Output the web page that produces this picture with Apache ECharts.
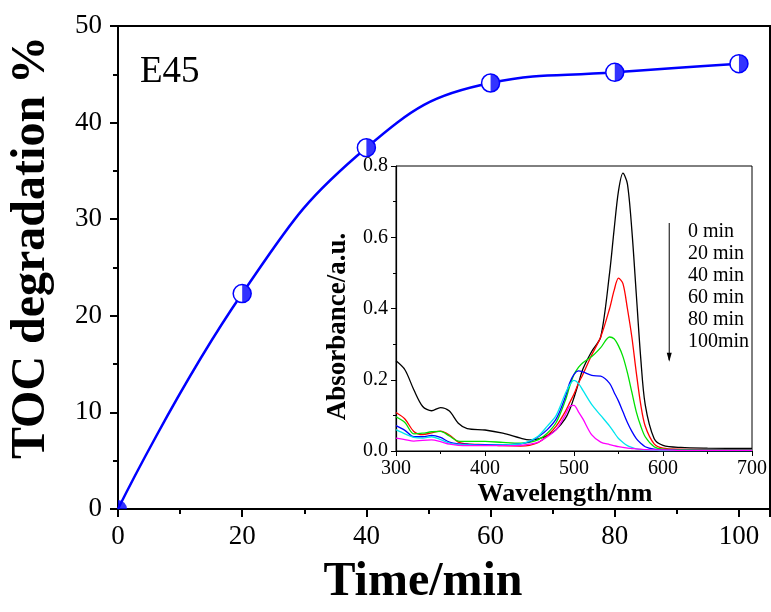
<!DOCTYPE html>
<html>
<head>
<meta charset="utf-8">
<script src="https://cdn.jsdelivr.net/npm/echarts@6/dist/echarts.min.js"></script>
<style>
html,body{margin:0;padding:0;background:#fff;}
#chart{width:771px;height:612px;}
</style>
</head>
<body>
<div id="chart"></div>
<script>
// ---- Main chart data ----
const timeMin = [0, 20, 40, 60, 80, 100];
const tocDegradation = [0, 22.3, 37.4, 44.1, 45.2, 46.1];

// ---- Inset data (absorbance spectra) ----
const wavelength = [300,310,320,330,340,350,360,370,380,400,420,440,450,460,470,480,490,495,500,505,510,520,530,540,545,550,555,560,565,570,575,580,590,600,620,650,700];
const abs0 = [0.253,0.228,0.172,0.125,0.113,0.122,0.112,0.078,0.063,0.059,0.050,0.036,0.031,0.034,0.043,0.060,0.090,0.115,0.150,0.190,0.230,0.280,0.320,0.500,0.620,0.730,0.780,0.750,0.620,0.440,0.260,0.130,0.035,0.016,0.010,0.008,0.007];
const abs20 = [0.108,0.090,0.055,0.046,0.051,0.056,0.045,0.025,0.020,0.018,0.015,0.014,0.016,0.024,0.043,0.070,0.110,0.135,0.160,0.190,0.215,0.270,0.320,0.400,0.450,0.485,0.470,0.400,0.320,0.220,0.130,0.070,0.020,0.008,0.005,0.004,0.004];
const abs40 = [0.096,0.080,0.048,0.050,0.054,0.055,0.042,0.028,0.027,0.027,0.024,0.022,0.024,0.032,0.050,0.080,0.140,0.180,0.215,0.235,0.248,0.265,0.290,0.320,0.315,0.295,0.265,0.220,0.165,0.110,0.070,0.040,0.012,0.005,0.004,0.003,0.003];
const abs60 = [0.071,0.058,0.040,0.040,0.044,0.038,0.025,0.020,0.019,0.018,0.018,0.020,0.026,0.040,0.060,0.090,0.150,0.190,0.215,0.225,0.222,0.212,0.210,0.190,0.165,0.140,0.110,0.080,0.055,0.035,0.022,0.012,0.005,0.003,0.002,0.002,0.002];
const abs80 = [0.060,0.048,0.038,0.036,0.040,0.032,0.022,0.018,0.017,0.016,0.017,0.020,0.028,0.042,0.070,0.100,0.160,0.185,0.198,0.190,0.170,0.130,0.100,0.070,0.052,0.035,0.024,0.015,0.010,0.006,0.004,0.003,0.002,0.001,0.001,0.001,0.001];
const abs100 = [0.036,0.032,0.028,0.030,0.031,0.026,0.019,0.016,0.015,0.015,0.015,0.016,0.019,0.025,0.040,0.060,0.100,0.125,0.128,0.110,0.090,0.045,0.025,0.018,0.015,0.012,0.010,0.008,0.007,0.006,0.005,0.004,0.003,0.003,0.002,0.002,0.002];
const seriesNames = ['0 min', '20 min', '40 min', '60 min', '80 min', '100min'];
const seriesValues = [abs0, abs20, abs40, abs60, abs80, abs100];
const seriesColors = ['#000000', '#ff0000', '#00e000', '#0000ff', '#00e5ee', '#ff00ff'];
// arrow annotation (wavelength, absorbance): start, end
const arrowX = [607, 607];
const arrowY = [0.64, 0.255];

const FONT = "'Liberation Serif', 'Times New Roman', serif";
const BLUE = '#0000ff';

const mainPairs = timeMin.map((t, i) => [t, tocDegradation[i]]);
const halfDisc = 'path://M10,0 A10,10 0 0 1 10,20 Z M0,10 L0.01,10 Z';
const quarterDisc = 'path://M0,0 L0,-10 A10,10 0 0 1 10,0 Z';

const baseData = mainPairs.map((p, i) => i === 0 ? { value: p, symbol: 'none' } : { value: p });
const halfData = mainPairs.map((p, i) => i === 0
  ? { value: p, symbol: quarterDisc, symbolSize: [9, 9], symbolOffset: [4.5, -4.5] }
  : { value: p });

const insetSeries = seriesNames.map((name, k) => ({
  name: name,
  type: 'line',
  xAxisIndex: 1,
  yAxisIndex: 1,
  data: wavelength.map((w, i) => [w, seriesValues[k][i]]),
  smooth: 0.3,
  showSymbol: false,
  symbol: 'none',
  z: 22,
  lineStyle: { color: seriesColors[k], width: 1.3 },
  itemStyle: { color: seriesColors[k] },
  silent: true
}));

const arrowSeries = {
  name: 'arrow',
  type: 'line',
  xAxisIndex: 1,
  yAxisIndex: 1,
  data: arrowX.map((x, i) => i === 0
    ? { value: [x, arrowY[i]], symbol: 'none' }
    : { value: [x, arrowY[i]], symbol: 'triangle', symbolSize: [5, 9], symbolRotate: 180, symbolOffset: [0, -3] }),
  showAllSymbol: true,
  z: 23,
  lineStyle: { color: '#000', width: 1 },
  itemStyle: { color: '#000', borderWidth: 0 },
  silent: true
};

const chart = echarts.init(document.getElementById('chart'), null, { renderer: 'canvas' });
chart.setOption({
  backgroundColor: '#ffffff',
  animation: false,
  title: {
    text: 'E45',
    left: 140,
    top: 54,
    padding: 0,
    textStyle: { fontFamily: FONT, fontSize: 37, fontWeight: 'normal', color: '#000' }
  },
  legend: {
    data: seriesNames,
    orient: 'vertical',
    left: 683,
    top: 221,
    icon: 'none',
    itemWidth: 0,
    itemHeight: 10,
    itemGap: 0,
    padding: 0,
    selectedMode: false,
    z: 30,
    textStyle: { fontFamily: FONT, fontSize: 20, color: '#000', lineHeight: 22, padding: 0 }
  },
  grid: [
    { left: 116, right: 1, top: 26, bottom: 98, show: true, borderColor: '#000', borderWidth: 2, backgroundColor: 'transparent', z: 0 },
    { left: 396, right: 19, top: 166, bottom: 161, show: true, borderColor: '#000', borderWidth: 1, backgroundColor: '#ffffff', z: 10 }
  ],
  xAxis: [
    {
      type: 'value', gridIndex: 0, min: 0, max: 105, interval: 20,
      name: 'Time/min', nameLocation: 'middle', nameGap: 50,
      nameTextStyle: { fontFamily: FONT, fontSize: 48, fontWeight: 'bold', color: '#000', padding: [0, 42, 0, 0] },
      axisLine: { show: true, onZero: false, lineStyle: { color: '#000', width: 2 } },
      axisTick: { show: true, inside: false, length: 8, lineStyle: { color: '#000', width: 2 } },
      minorTick: { show: true, splitNumber: 2, length: 5, lineStyle: { color: '#000', width: 2 } },
      axisLabel: { fontFamily: FONT, fontSize: 27, color: '#000', margin: 14, showMaxLabel: false },
      splitLine: { show: false }
    },
    {
      type: 'value', gridIndex: 1, min: 300, max: 700, interval: 100, z: 20,
      name: 'Wavelength/nm', nameLocation: 'middle', nameGap: 30,
      nameTextStyle: { fontFamily: FONT, fontSize: 26, fontWeight: 'bold', color: '#000', padding: [0, 18, 0, 0] },
      axisLine: { show: true, onZero: false, lineStyle: { color: '#000', width: 1.2 } },
      axisTick: { show: true, inside: false, length: 5, lineStyle: { color: '#000', width: 1 } },
      minorTick: { show: true, splitNumber: 2, length: 3, lineStyle: { color: '#000', width: 1 } },
      axisLabel: { fontFamily: FONT, fontSize: 20, color: '#000', margin: 8 },
      splitLine: { show: false }
    }
  ],
  yAxis: [
    {
      type: 'value', gridIndex: 0, min: 0, max: 50, interval: 10,
      name: 'TOC degradation %', nameLocation: 'middle', nameGap: 62,
      nameTextStyle: { fontFamily: FONT, fontSize: 48, fontWeight: 'bold', color: '#000', padding: [0, 0, 0, 40] },
      axisLine: { show: true, onZero: false, lineStyle: { color: '#000', width: 2 } },
      axisTick: { show: true, inside: false, length: 8, lineStyle: { color: '#000', width: 2 } },
      minorTick: { show: true, splitNumber: 2, length: 5, lineStyle: { color: '#000', width: 2 } },
      axisLabel: { fontFamily: FONT, fontSize: 27, color: '#000', margin: 16 },
      splitLine: { show: false }
    },
    {
      type: 'value', gridIndex: 1, min: 0, max: 0.8, interval: 0.2, z: 20,
      name: 'Absorbance/a.u.', nameLocation: 'middle', nameGap: 44,
      nameTextStyle: { fontFamily: FONT, fontSize: 27, fontWeight: 'bold', color: '#000', padding: [0, 36, 0, 0] },
      axisLine: { show: true, onZero: false, lineStyle: { color: '#000', width: 1.2 } },
      axisTick: { show: true, inside: false, length: 5, lineStyle: { color: '#000', width: 1 } },
      minorTick: { show: true, splitNumber: 2, length: 3, lineStyle: { color: '#000', width: 1 } },
      axisLabel: { fontFamily: FONT, fontSize: 20, color: '#000', margin: 8, formatter: v => v.toFixed(1) },
      splitLine: { show: false }
    }
  ],
  series: [
    {
      name: 'TOC',
      type: 'line',
      xAxisIndex: 0, yAxisIndex: 0,
      data: baseData,
      smooth: 0.45,
      symbol: 'circle',
      symbolSize: 18,
      showAllSymbol: true,
      clip: true,
      z: 3,
      lineStyle: { color: BLUE, width: 2.5 },
      itemStyle: { color: '#ffffff', borderColor: BLUE, borderWidth: 1.5 },
      silent: true
    },
    {
      name: 'TOC half',
      type: 'scatter',
      xAxisIndex: 0, yAxisIndex: 0,
      data: halfData,
      symbol: halfDisc,
      symbolSize: 18,
      z: 4,
      itemStyle: { color: BLUE },
      silent: true
    }
  ].concat(insetSeries, [arrowSeries])
});
</script>
</body>
</html>
